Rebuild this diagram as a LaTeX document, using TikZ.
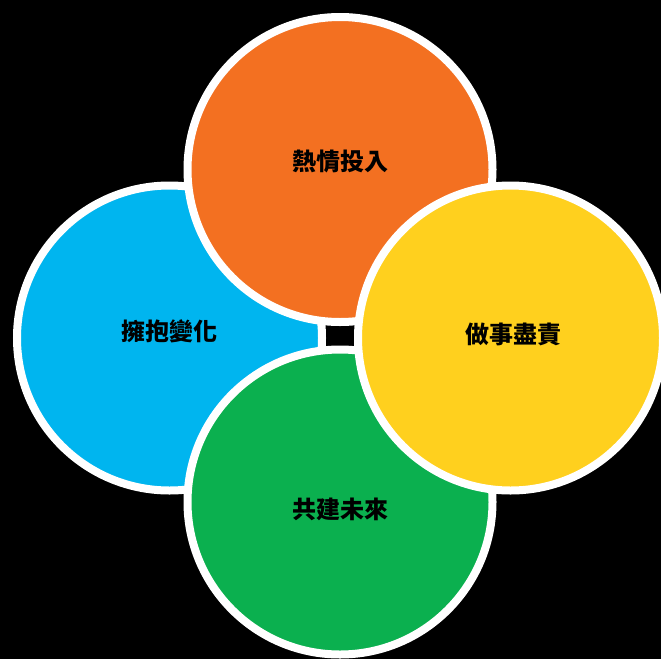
\documentclass[tikz,border=0pt]{standalone}
\usepackage{fontspec}
\newfontfamily\cjk{Noto Sans CJK TC}
\definecolor{cOrange}{HTML}{F37021}
\definecolor{cBlue}{HTML}{00B5EF}
\definecolor{cYellow}{HTML}{FFD01E}
\definecolor{cGreen}{HTML}{0BB04F}
\tikzset{
  disc/.style={circle, draw=white, line width=8pt, minimum size=305pt, inner sep=0pt},
  txt/.style={font=\cjk\bfseries\fontsize{24pt}{28pt}\selectfont, text=black, inner sep=0pt}
}
\begin{document}
\begin{tikzpicture}[x=1pt, y=-1pt]
\useasboundingbox (0,0) rectangle (661,659);
\clip (0,0) rectangle (661,659);
\fill[black] (0,0) rectangle (661,659);
\node[disc, fill=cBlue]   (blue)   at (169.5,338) {};
\node[disc, fill=cOrange] (orange) at (340,169.5) {};
\node[disc, fill=cGreen]  (green)  at (340,502) {};
\node[disc, fill=cYellow] (yellow) at (510.5,338) {};
\node[txt] (torange) at (340,161) {熱情投入};
\node[txt] (tblue)   at (169.5,331) {擁抱變化};
\node[txt] (tyellow) at (513,334) {做事盡責};
\node[txt] (tgreen)  at (340,509) {共建未來};
\end{tikzpicture}
\end{document}
